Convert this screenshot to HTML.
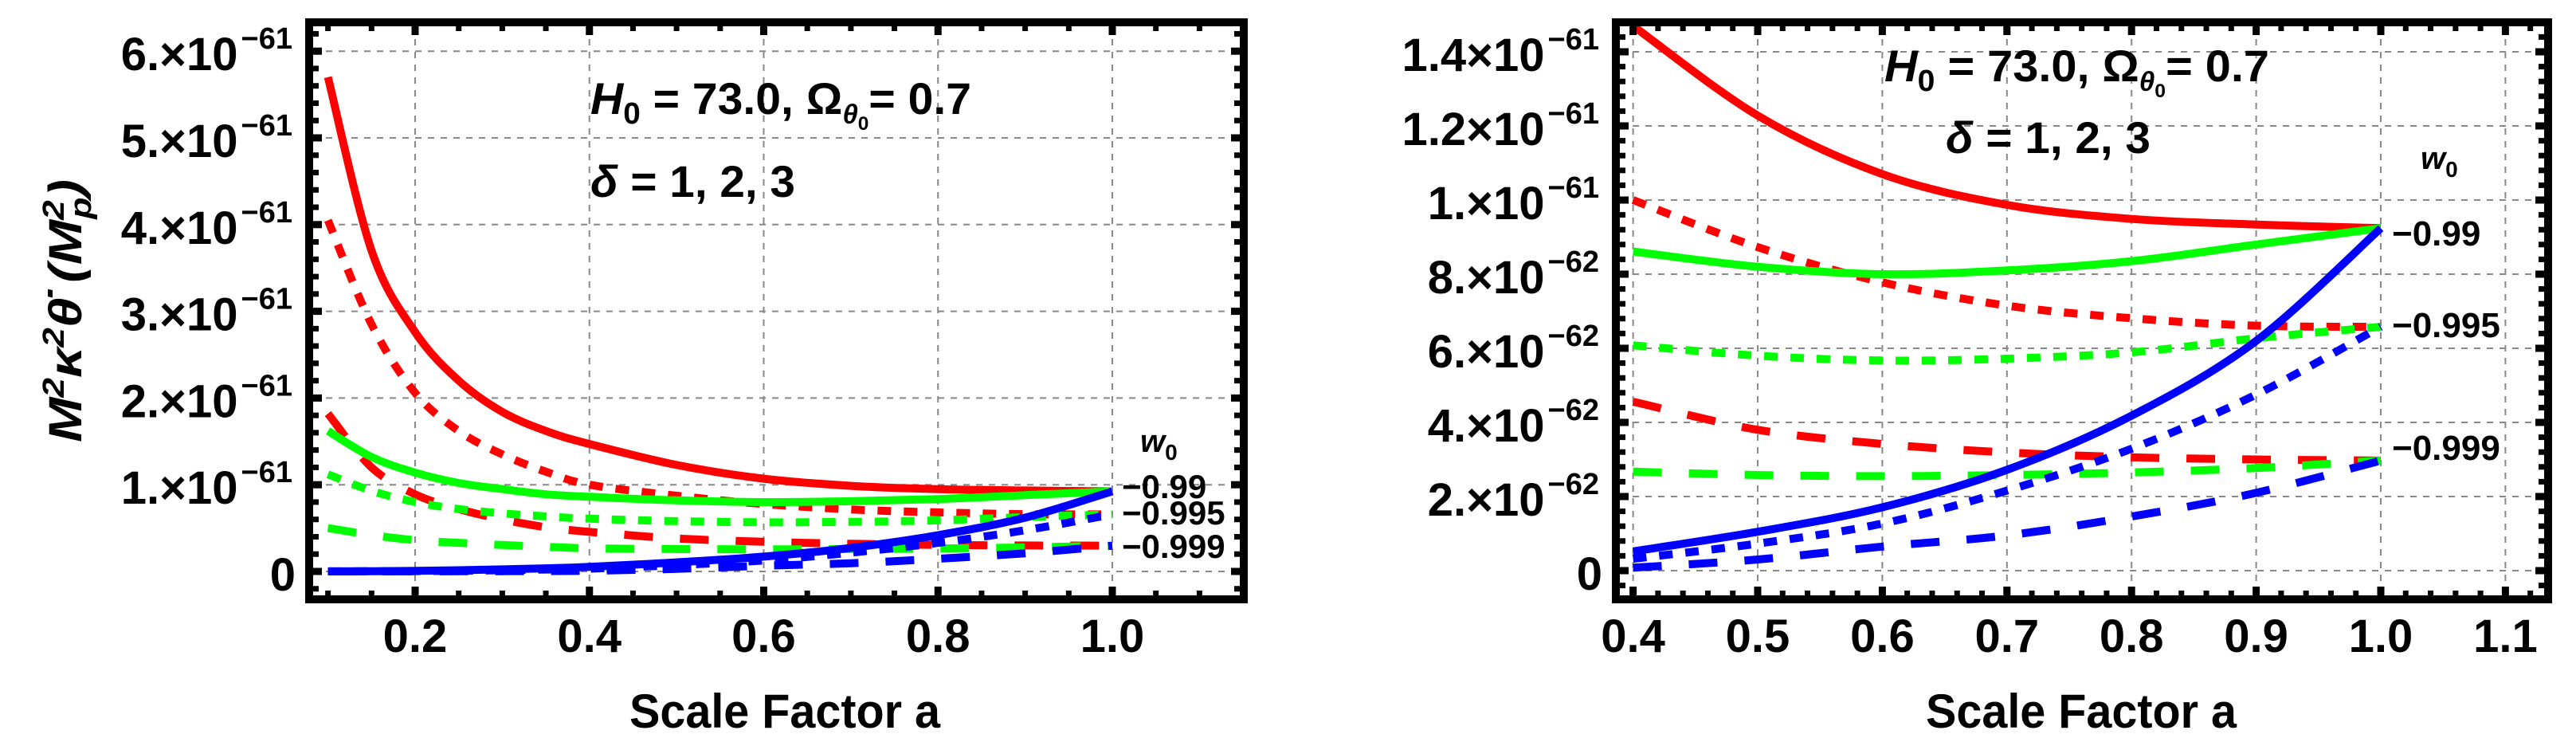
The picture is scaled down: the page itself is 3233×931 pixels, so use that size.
<!DOCTYPE html>
<html><head><meta charset="utf-8"><title>Scale factor plots</title>
<style>
html,body{margin:0;padding:0;background:#fff;}
svg{display:block;font-family:"Liberation Sans",sans-serif;}
.tk{font-weight:bold;font-size:58px;fill:#000;}
</style></head>
<body>
<svg id="fig" width="3233" height="931" viewBox="0 0 3233 931" xmlns="http://www.w3.org/2000/svg">
<defs>
<clipPath id="clipL"><rect x="393" y="33" width="1163" height="714"/></clipPath>
<clipPath id="clipR"><rect x="2033" y="33" width="1160" height="714"/></clipPath>
</defs>
<rect width="3233" height="931" fill="#fff"/>
<g id="panelL"></g>
<g id="panelR"></g>

<!-- Left annotations -->
<text x="741" y="143" font-size="56" font-weight="bold" textLength="478" lengthAdjust="spacingAndGlyphs"><tspan font-style="italic">H</tspan><tspan font-size="38" dy="12">0</tspan><tspan dy="-12"> = 73.0, Ω</tspan><tspan font-size="34" font-style="italic" dy="12">θ</tspan><tspan font-size="24" dy="8">0</tspan><tspan dy="-20">= 0.7</tspan></text>
<text x="741" y="247" font-size="56" font-weight="bold" textLength="257" lengthAdjust="spacingAndGlyphs"><tspan font-style="italic">δ</tspan> = 1, 2, 3</text>
<text x="1431" y="567" font-size="40" font-weight="bold" font-style="italic">w<tspan font-size="28" font-style="normal" dy="10">0</tspan></text>
<text x="1408" y="625" font-size="42" font-weight="bold">−0.99</text>
<text x="1408" y="658" font-size="42" font-weight="bold">−0.995</text>
<text x="1408" y="700" font-size="42" font-weight="bold">−0.999</text>
<text x="985" y="913" font-size="60" font-weight="bold" text-anchor="middle" textLength="390" lengthAdjust="spacingAndGlyphs">Scale Factor a</text>
<text transform="translate(102,390) rotate(-90)" font-size="58" font-weight="bold" font-style="italic" text-anchor="middle" textLength="330" lengthAdjust="spacingAndGlyphs">M<tspan font-size="38" dy="-22">2</tspan><tspan dy="22">κ</tspan><tspan font-size="38" dy="-22">2</tspan><tspan dy="22">θ̇  (M</tspan><tspan font-size="38" dy="-22">2</tspan><tspan font-size="38" dx="-20" dy="34">p</tspan><tspan dy="-12">)</tspan></text>

<!-- Right annotations -->
<text x="2365" y="102" font-size="56" font-weight="bold" textLength="483" lengthAdjust="spacingAndGlyphs"><tspan font-style="italic">H</tspan><tspan font-size="38" dy="12">0</tspan><tspan dy="-12"> = 73.0, Ω</tspan><tspan font-size="34" font-style="italic" dy="12">θ</tspan><tspan font-size="24" dy="8">0</tspan><tspan dy="-20">= 0.7</tspan></text>
<text x="2442" y="192" font-size="56" font-weight="bold" textLength="257" lengthAdjust="spacingAndGlyphs"><tspan font-style="italic">δ</tspan> = 1, 2, 3</text>
<text x="3038" y="212" font-size="40" font-weight="bold" font-style="italic">w<tspan font-size="28" font-style="normal" dy="10">0</tspan></text>
<text x="3002" y="308" font-size="44" font-weight="bold">−0.99</text>
<text x="3002" y="423" font-size="44" font-weight="bold">−0.995</text>
<text x="3002" y="577" font-size="44" font-weight="bold">−0.999</text>
<text x="2612" y="913" font-size="60" font-weight="bold" text-anchor="middle" textLength="390" lengthAdjust="spacingAndGlyphs">Scale Factor a</text>
</svg>
<script>
// ---- data (values in units of 1e-61 M_p^2) ----
const aGrid = [0.1,0.15,0.2,0.25,0.3,0.35,0.4,0.5,0.6,0.7,0.8,0.9,1.0];
const redSolid   = [5.7,3.7,2.76,2.2,1.84,1.62,1.47,1.228,1.07,0.987,0.949,0.934,0.924];
const redDotted  = [4.05,2.85,2.06,1.62,1.35,1.15,1.0,0.873,0.778,0.715,0.681,0.661,0.658];
const redDashed  = [1.82,1.2,0.89,0.72,0.6,0.51,0.456,0.38,0.342,0.319,0.306,0.3,0.297];
const greenSolid = [1.62,1.32,1.14,1.02,0.95,0.89,0.861,0.82,0.8,0.81,0.835,0.88,0.924];
const greenDotted= [1.12,0.93,0.8,0.72,0.67,0.635,0.608,0.58,0.567,0.572,0.589,0.627,0.658];
const greenDashed= [0.5,0.42,0.36,0.33,0.305,0.285,0.267,0.258,0.255,0.258,0.265,0.277,0.297];
const blueSolid  = [0.001,0.003,0.007,0.014,0.024,0.036,0.052,0.105,0.171,0.272,0.418,0.62,0.924];
const blueDotted = [0.0005,0.002,0.004,0.008,0.014,0.022,0.032,0.073,0.127,0.216,0.329,0.475,0.658];
const blueDashed = [0,0.0005,0.001,0.002,0.003,0.005,0.008,0.03,0.065,0.095,0.146,0.21,0.297];
const leftXTicks = [0.2,0.4,0.6,0.8,1.0];
const leftXTickLabels = ["0.2","0.4","0.6","0.8","1.0"];
const leftYTicks = [0,1,2,3,4,5,6];
const leftYTickLabels = ["0","1.×10","2.×10","3.×10","4.×10","5.×10","6.×10"];
const leftYTickExp = ["","−61","−61","−61","−61","−61","−61"];
const rightXTicks = [0.4,0.5,0.6,0.7,0.8,0.9,1.0,1.1];
const rightXTickLabels = ["0.4","0.5","0.6","0.7","0.8","0.9","1.0","1.1"];
const rightYTicks = [0,0.2,0.4,0.6,0.8,1.0,1.2,1.4];
const rightYTickLabels = ["0","2.×10","4.×10","6.×10","8.×10","1.×10","1.2×10","1.4×10"];
const rightYTickExp = ["","−62","−62","−62","−62","−61","−61","−61"];

const NS = "http://www.w3.org/2000/svg";
const series = [
  {name:"red-solid",vals:redSolid,color:"#ff0000",dash:null},
  {name:"red-dotted",vals:redDotted,color:"#ff0000",dash:"17 16"},
  {name:"red-dashed",vals:redDashed,color:"#ff0000",dash:"36 34"},
  {name:"green-solid",vals:greenSolid,color:"#00ff00",dash:null},
  {name:"green-dotted",vals:greenDotted,color:"#00ff00",dash:"17 16"},
  {name:"green-dashed",vals:greenDashed,color:"#00ff00",dash:"36 34"},
  {name:"blue-solid",vals:blueSolid,color:"#0000ff",dash:null},
  {name:"blue-dotted",vals:blueDotted,color:"#0000ff",dash:"17 16"},
  {name:"blue-dashed",vals:blueDashed,color:"#0000ff",dash:"36 34"}
];
function mk(tag, attrs, parent){const e=document.createElementNS(NS,tag);for(const k in attrs)e.setAttribute(k,attrs[k]);parent.appendChild(e);return e;}
function smoothPath(pts){
  let d="M"+pts[0][0].toFixed(1)+","+pts[0][1].toFixed(1);
  for(let i=0;i<pts.length-1;i++){
    const p0=pts[i-1]||pts[i],p1=pts[i],p2=pts[i+1],p3=pts[i+2]||p2;
    const c1=[p1[0]+(p2[0]-p0[0])/6,p1[1]+(p2[1]-p0[1])/6];
    const c2=[p2[0]-(p3[0]-p1[0])/6,p2[1]-(p3[1]-p1[1])/6];
    d+=" C"+c1[0].toFixed(1)+","+c1[1].toFixed(1)+" "+c2[0].toFixed(1)+","+c2[1].toFixed(1)+" "+p2[0].toFixed(1)+","+p2[1].toFixed(1);
  }
  return d;
}
function drawPanel(cfg){
  const g=document.getElementById(cfg.id);
  const X=cfg.X, Y=cfg.Y;
  // grid
  cfg.xt.forEach(v=>{
    const l=mk("line",{x1:X(v),x2:X(v),y1:cfg.top,y2:cfg.bot,stroke:"#888",'stroke-width':2,'stroke-dasharray':"8 8"},g);
    
    
  });
  cfg.yt.forEach(v=>{
    const l=mk("line",{x1:cfg.left,x2:cfg.right,y1:Y(v),y2:Y(v),stroke:"#888",'stroke-width':2,'stroke-dasharray':"8 8"},g);
    
    
  });
  // curves
  const cg=mk("g",{'clip-path':"url(#"+cfg.clip+")"},g);
  series.forEach(s=>{
    const pts=[];
    aGrid.forEach((a,i)=>{ if(a>=cfg.amin-1e-9) pts.push([X(a),Y(s.vals[i])]); });
    const p=mk("path",{d:smoothPath(pts),fill:"none",stroke:s.color,'stroke-width':10},cg);
    if(s.dash) p.setAttribute("stroke-dasharray",s.dash);
    
    
  });
  // ticks
  const tg=mk("g",{fill:"#000"},g);
  for(let v=cfg.xmin0;v<=cfg.xmax+1e-9;v+=cfg.xminor){
    const vv=Math.round(v*1000)/1000; const x=X(vv);
    if(x<cfg.left||x>cfg.right) continue;
    const major=cfg.xt.some(t=>Math.abs(t-vv)<1e-6);
    const w=major?9:7,h=major?11:6;
    mk("rect",{x:x-w/2,y:cfg.bot-h,width:w,height:h},tg);
    mk("rect",{x:x-w/2,y:cfg.top,width:w,height:h},tg);
  }
  for(let v=cfg.ymin0;v<=cfg.ymax+1e-9;v+=cfg.yminor){
    const vv=Math.round(v*1000)/1000; const y=Y(vv);
    if(y<cfg.top||y>cfg.bot) continue;
    const major=cfg.yt.some(t=>Math.abs(t-vv)<1e-6);
    const w=major?11:7,h=major?9:7;
    mk("rect",{x:cfg.left,y:y-h/2,width:w,height:h},tg);
    mk("rect",{x:cfg.right-w,y:y-h/2,width:w,height:h},tg);
  }
  // frame
  const fr=mk("rect",{x:cfg.left-5,y:cfg.top-5,width:cfg.right-cfg.left+10,height:cfg.bot-cfg.top+10,fill:"none",stroke:"#000",'stroke-width':10},g);
  
  
  // x labels
  cfg.xt.forEach((v,i)=>{
    const t=mk("text",{x:X(v),y:818,'text-anchor':"middle",class:"tk"},g);
    t.textContent=cfg.xl[i];
    
    
  });
  // y labels
  cfg.yt.forEach((v,i)=>{
    const y=Y(v);
    const t=mk("text",{x:cfg.labRight,y:y+24,'text-anchor':"end",class:"tk"},g);
    
    
    if(cfg.ye[i]===""){ t.setAttribute("x",cfg.labRight+4); t.textContent=cfg.yl[i]; }
    else{
      const m=document.createElementNS(NS,"tspan"); m.textContent=cfg.yl[i]; t.appendChild(m);
      const e=document.createElementNS(NS,"tspan"); e.setAttribute("font-size","38"); e.setAttribute("dx","4"); e.setAttribute("dy","-27"); e.textContent=cfg.ye[i]; t.appendChild(e);
    }
  });
}
drawPanel({id:"panelL",clip:"clipL",left:393,right:1556,top:33,bot:747,
  X:a=>521+(a-0.2)*1093.75, Y:v=>717-v*108.8, amin:0.1,
  xt:leftXTicks, xl:leftXTickLabels, yt:leftYTicks, yl:leftYTickLabels, ye:leftYTickExp,
  xmin0:0.05,xmax:1.15,xminor:0.05, ymin0:-0.4,ymax:6.4,yminor:0.2, labRight:367});
drawPanel({id:"panelR",clip:"clipR",left:2033,right:3193,top:33,bot:747,
  X:a=>2206+(a-0.5)*1564, Y:v=>716-v*465, amin:0.4,
  xt:rightXTicks, xl:rightXTickLabels, yt:rightYTicks, yl:rightYTickLabels, ye:rightYTickExp,
  xmin0:0.38,xmax:1.14,xminor:0.02, ymin0:-0.08,ymax:1.48,yminor:0.04, labRight:2007});
</script>
</body></html>
